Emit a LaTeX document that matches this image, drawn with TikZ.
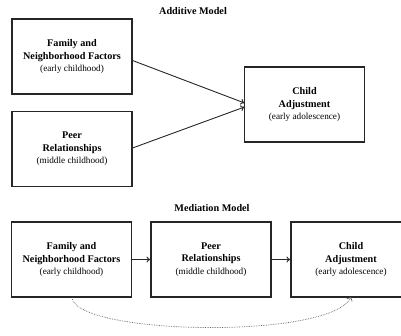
\documentclass[tikz,border=0pt]{standalone}
\usepackage{fontspec}
\setmainfont{Liberation Serif}
\usetikzlibrary{arrows.meta}
\newcommand{\bt}{\fontsize{10.2}{12.6}\selectfont\bfseries}
\newcommand{\st}{\fontsize{9.2}{12.6}\selectfont\mdseries}
\tikzset{
  box/.style={draw=black!85, line width=1.1pt, rectangle, minimum width=120pt, minimum height=75pt, inner sep=0pt, align=center, font=\bt},
  ttl/.style={font=\bt, inner sep=0pt},
  arr/.style={line width=0.9pt, draw=black!85, -{To[length=4pt,width=6pt]}},
  dotarr/.style={line width=0.7pt, draw=black!60, densely dotted, -{Straight Barb[length=3pt,width=6pt]}}
}
\begin{document}
\begin{tikzpicture}[x=1pt,y=-1pt]
\useasboundingbox (0,0) rectangle (401,335);
\clip (0,0) rectangle (401,335);
\node[ttl] (t1) at (193,11) {Additive Model};
\node[box] (a1) at (72,56.5) {Family and\\Neighborhood Factors\\{\st (early childhood)}};
\node[box] (a2) at (72,149) {Peer\\Relationships\\{\st (middle childhood)}};
\node[box] (a3) at (304.5,104.5) {Child\\Adjustment\\{\st (early adolescence)}};
\coordinate (e1) at (244.5,103);
\coordinate (e2) at (244.5,107);
\draw[arr] ([yshift=-4pt]a1.east) -- (e1);
\draw[arr] ([yshift=1pt]a2.east) -- (e2);
\node[ttl] (t2) at (212,208) {Mediation Model};
\node[box] (b1) at (71.5,259.5) {Family and\\Neighborhood Factors\\{\st (early childhood)}};
\node[box] (b2) at (211,259.5) {Peer\\Relationships\\{\st (middle childhood)}};
\node[box] (b3) at (351,259.5) {Child\\Adjustment\\{\st (early adolescence)}};
\draw[arr] (b1.east) -- (b2.west);
\draw[arr] (b2.east) -- (b3.west);
\coordinate (c0) at (72,297.5);
\coordinate (c3) at (351,297);
\draw[dotarr] (c0) .. controls (75,335) and (330,340) .. (c3);
\end{tikzpicture}
\end{document}
